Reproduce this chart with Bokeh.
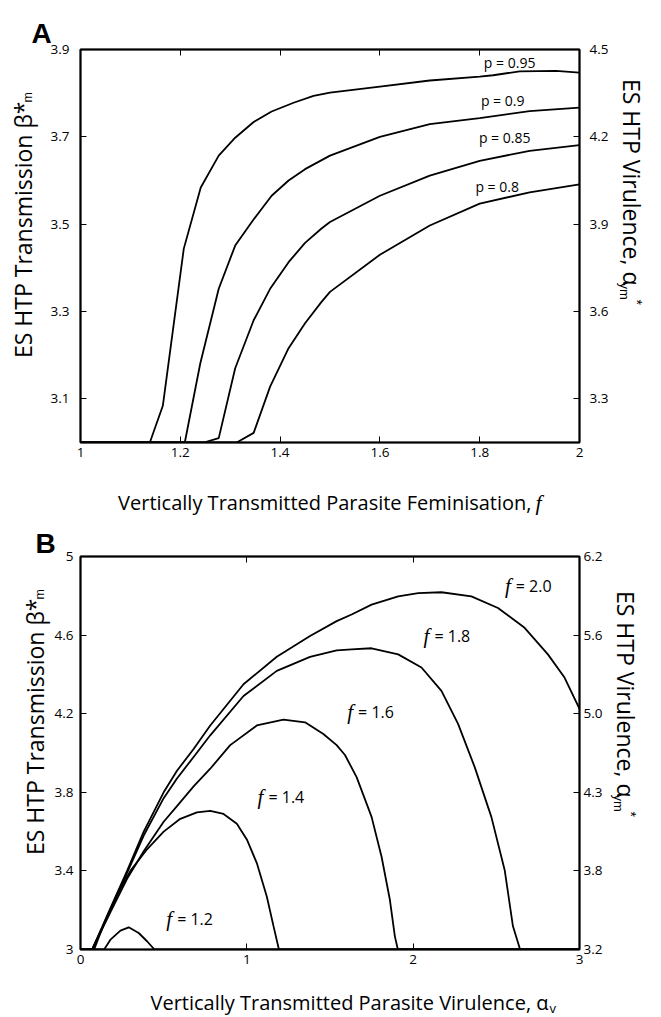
import math
from bokeh.plotting import figure
from bokeh.models import Range1d, LinearAxis, FixedTicker, Label
from bokeh.layouts import column
from bokeh.embed import file_html
from bokeh.resources import INLINE

FONT = "Open Sans"
SMALL = "Liberation Sans"
SERIF = "Liberation Serif"

# ---------------- Panel A data ----------------
a_x_ticks = [1.0, 1.2, 1.4, 1.6, 1.8, 2.0]
a_x_tick_labels = ["1", "1.2", "1.4", "1.6", "1.8", "2"]
a_left_ticks = [3.1, 3.3, 3.5, 3.7, 3.9]
a_right_ticks = [3.3, 3.6, 3.9, 4.2, 4.5]

p95_x = [1.0, 1.139, 1.165, 1.207, 1.241, 1.277, 1.31, 1.347, 1.383, 1.427, 1.467, 1.5, 1.6, 1.7, 1.8, 1.827, 1.88, 1.953, 2.0]
p95_y = [3.0, 3.0, 3.084, 3.444, 3.584, 3.657, 3.698, 3.734, 3.758, 3.778, 3.794, 3.801, 3.815, 3.829, 3.838, 3.841, 3.85, 3.851, 3.847]
p90_x = [1.0, 1.209, 1.24, 1.277, 1.31, 1.345, 1.383, 1.417, 1.45, 1.5, 1.6, 1.7, 1.8, 1.9, 2.0]
p90_y = [3.0, 3.0, 3.181, 3.352, 3.451, 3.508, 3.565, 3.60, 3.626, 3.657, 3.70, 3.729, 3.743, 3.759, 3.767]
p85_x = [1.0, 1.247, 1.277, 1.31, 1.347, 1.38, 1.417, 1.45, 1.483, 1.5, 1.6, 1.7, 1.8, 1.9, 2.0]
p85_y = [3.0, 3.0, 3.010, 3.17, 3.28, 3.352, 3.413, 3.457, 3.49, 3.505, 3.565, 3.611, 3.645, 3.668, 3.681]
p80_x = [1.0, 1.313, 1.347, 1.38, 1.417, 1.45, 1.483, 1.5, 1.6, 1.7, 1.8, 1.9, 2.0]
p80_y = [3.0, 3.0, 3.022, 3.128, 3.216, 3.273, 3.322, 3.345, 3.43, 3.497, 3.547, 3.573, 3.591]

a_label_text = ["p = 0.95", "p = 0.9", "p = 0.85", "p = 0.8"]
a_label_x = [1.86, 1.846, 1.85, 1.835]
a_label_y = [3.87, 3.784, 3.698, 3.586]

# ---------------- Panel B data ----------------
b_x_ticks = [0, 1, 2, 3]
b_left_ticks = [3.0, 3.4, 3.8, 4.2, 4.6, 5.0]
b_left_labels = ["3", "3.4", "3.8", "4.2", "4.6", "5"]
b_right_labels = ["3.2", "3.8", "4.3", "5.0", "5.6", "6.2"]

f20_x = [0, 0.07, 0.18, 0.28, 0.38, 0.50, 0.58, 0.68, 0.78, 0.98, 1.18, 1.38, 1.54, 1.63, 1.75, 1.91, 2.03, 2.17, 2.35, 2.51, 2.67, 2.81, 2.91, 3.0]
f20_y = [3.0, 3.0, 3.21, 3.40, 3.60, 3.80, 3.91, 4.02, 4.14, 4.35, 4.49, 4.595, 4.671, 4.705, 4.755, 4.797, 4.814, 4.818, 4.797, 4.738, 4.637, 4.502, 4.384, 4.225]
f18_x = [0, 0.07, 0.18, 0.28, 0.38, 0.50, 0.58, 0.68, 0.78, 0.98, 1.18, 1.38, 1.54, 1.63, 1.75, 1.91, 2.05, 2.17, 2.27, 2.37, 2.47, 2.55, 2.60, 2.643, 3.0]
f18_y = [3.0, 3.0, 3.20, 3.39, 3.58, 3.77, 3.87, 3.98, 4.09, 4.29, 4.418, 4.489, 4.522, 4.527, 4.533, 4.502, 4.435, 4.316, 4.148, 3.928, 3.675, 3.405, 3.118, 3.0, 3.0]
f16_x = [0, 0.07, 0.18, 0.28, 0.38, 0.50, 0.58, 0.68, 0.78, 0.90, 1.06, 1.22, 1.35, 1.46, 1.54, 1.59, 1.66, 1.75, 1.81, 1.86, 1.89, 1.908, 3.0]
f16_y = [3.0, 3.0, 3.19, 3.36, 3.50, 3.65, 3.73, 3.83, 3.92, 4.04, 4.14, 4.17, 4.156, 4.097, 4.04, 3.99, 3.877, 3.675, 3.472, 3.253, 3.067, 3.0, 3.0]
f14_x = [0, 0.082, 0.15, 0.22, 0.30, 0.40, 0.50, 0.60, 0.70, 0.78, 0.86, 0.94, 1.0, 1.06, 1.12, 1.16, 1.193, 3.0]
f14_y = [3.0, 3.0, 3.15, 3.28, 3.40, 3.51, 3.60, 3.665, 3.698, 3.705, 3.69, 3.64, 3.56, 3.44, 3.27, 3.12, 3.0, 3.0]
f12_x = [0, 0.09, 0.142, 0.18, 0.24, 0.29, 0.35, 0.40, 0.445, 3.0]
f12_y = [3.0, 3.0, 3.0, 3.05, 3.096, 3.113, 3.084, 3.042, 3.0, 3.0]

b_label_text = ["= 2.0", "= 1.8", "= 1.6", "= 1.4", "= 1.2"]
b_label_x = [2.617, 2.128, 1.669, 1.13, 0.581]
b_label_y = [4.848, 4.595, 4.21, 3.775, 3.157]


def style_axes(p, standoffs):
    p.outline_line_color = "black"
    p.outline_line_width = 2
    p.xgrid.visible = False
    p.ygrid.visible = False
    p.background_fill_color = "white"
    p.border_fill_color = "white"
    for ax in p.axis:
        ax.axis_line_color = "black"
        ax.axis_line_width = 1.5
        ax.major_tick_in = 6
        ax.major_tick_out = 0
        ax.major_tick_line_color = "black"
        ax.major_tick_line_width = 1
        ax.minor_tick_line_color = None
        ax.major_label_text_font = FONT
        ax.major_label_text_font_size = "13.5px"
        ax.major_label_text_color = "black"
    for ax, s in standoffs:
        ax.major_label_standoff = s


def lab(p, x, y, dx, dy, text, size, align="left", baseline="alphabetic",
        angle=0.0, font=FONT, style="normal", side=None):
    lbl = Label(x=x, y=y, x_offset=dx, y_offset=dy, text=text,
                text_font=font, text_font_size=size, text_font_style=style,
                text_align=align, text_baseline=baseline, angle=angle,
                text_color="black")
    if side is None:
        p.add_layout(lbl)
    else:
        p.add_layout(lbl, side)


UP = math.pi / 2
DOWN = -math.pi / 2
LW = 1.8

# ================= Panel A =================
pA = figure(width=661, height=515, x_range=Range1d(1.0, 2.0), y_range=Range1d(3.0, 3.9),
            output_backend="svg", toolbar_location=None,
            min_border_left=80, min_border_right=81, min_border_top=49, min_border_bottom=73)
pA.extra_y_ranges = {"r": Range1d(3.15, 4.5)}
pA.xaxis.ticker = FixedTicker(ticks=a_x_ticks)
pA.xaxis.major_label_overrides = {t: s for t, s in zip(a_x_ticks, a_x_tick_labels)}
pA.yaxis.ticker = FixedTicker(ticks=a_left_ticks)
a_right = LinearAxis(y_range_name="r", ticker=FixedTicker(ticks=a_right_ticks))
pA.add_layout(a_right, "right")
a_top = LinearAxis(ticker=FixedTicker(ticks=a_x_ticks), major_label_text_alpha=0)
pA.add_layout(a_top, "above")
style_axes(pA, [(pA.xaxis[0], 12), (pA.yaxis[0], 11), (a_right, 10), (a_top, 0)])
a_top.major_label_text_font_size = "1px"

for xs, ys in [(p95_x, p95_y), (p90_x, p90_y), (p85_x, p85_y), (p80_x, p80_y)]:
    pA.line(xs, ys, line_color="black", line_width=LW)

for t, x, y in zip(a_label_text, a_label_x, a_label_y):
    lab(pA, x, y, 0, 0, t, "14px", align="center", baseline="middle")

# frame corner (1.0, 3.9) sits at (80, 49); frame right at 580, bottom 442
lab(pA, 1.0, 3.9, -49, 16, "A", "28px", font=SMALL, style="bold", side="above")
lab(pA, 1.0, 3.9, -58, -52, "ES HTP Transmission \u03b2*", "23px", align="right", angle=UP, side="left")
lab(pA, 1.0, 3.9, -53, -53, "m", "12.5px", angle=UP, font=SMALL, side="left")
lab(pA, 2.0, 3.9, 52, -236, "ES HTP Virulence, \u03b1", "23px", align="right", angle=DOWN, side="right")
lab(pA, 2.0, 3.9, 45, -233, "ym", "13px", angle=DOWN, font=SMALL, side="right")
lab(pA, 2.0, 3.9, 57, -250, "*", "14px", angle=DOWN, font=SMALL, side="above")
lab(pA, 1.0, 3.0, 451, -60, "Vertically Transmitted Parasite Feminisation,", "20px", align="right", side="below")
lab(pA, 1.0, 3.0, 455, -60, "f", "22px", font=SERIF, style="italic", side="below")

# ================= Panel B =================
pB = figure(width=661, height=502, x_range=Range1d(0, 3), y_range=Range1d(3.0, 5.0),
            output_backend="svg", toolbar_location=None,
            min_border_left=78, min_border_right=82, min_border_top=41, min_border_bottom=68)
pB.xaxis.ticker = FixedTicker(ticks=b_x_ticks)
pB.yaxis.ticker = FixedTicker(ticks=b_left_ticks)
pB.yaxis.major_label_overrides = {t: s for t, s in zip(b_left_ticks, b_left_labels)}
b_right = LinearAxis(ticker=FixedTicker(ticks=b_left_ticks))
b_right.major_label_overrides = {t: s for t, s in zip(b_left_ticks, b_right_labels)}
pB.add_layout(b_right, "right")
b_top = LinearAxis(ticker=FixedTicker(ticks=b_x_ticks), major_label_text_alpha=0)
pB.add_layout(b_top, "above")
style_axes(pB, [(pB.xaxis[0], 3), (pB.yaxis[0], 7), (b_right, 4), (b_top, 0)])
b_top.major_label_text_font_size = "1px"

for xs, ys in [(f20_x, f20_y), (f18_x, f18_y), (f16_x, f16_y), (f14_x, f14_y), (f12_x, f12_y)]:
    pB.line(xs, ys, line_color="black", line_width=LW)

for t, x, y in zip(b_label_text, b_label_x, b_label_y):
    lab(pB, x, y, 0, 0, t, "16px", align="left", baseline="middle")
    lab(pB, x, y, -5, 0, "f", "21px", align="right", baseline="middle", font=SERIF, style="italic")

# frame corner (0, 5) sits at (78, 556 on the page); frame right at 579, bottom 949
lab(pB, 0.0, 5.0, -45, 13, "B", "28px", font=SMALL, style="bold", side="above")
lab(pB, 0.0, 5.0, -46, -42, "ES HTP Transmission \u03b2*", "23px", align="right", angle=UP, side="left")
lab(pB, 0.0, 5.0, -41, -43, "m", "12.5px", angle=UP, font=SMALL, side="left")
lab(pB, 3.0, 5.0, 46, -241, "ES HTP Virulence, \u03b1", "23px", align="right", angle=DOWN, side="right")
lab(pB, 3.0, 5.0, 39, -238, "ym", "13px", angle=DOWN, font=SMALL, side="right")
lab(pB, 3.0, 5.0, 51, -255, "*", "14px", angle=DOWN, font=SMALL, side="above")
lab(pB, 0.0, 3.0, 468, -53, "Vertically Transmitted Parasite Virulence, \u03b1", "20px", align="right", side="below")
lab(pB, 0.0, 3.0, 469, -58, "v", "13px", side="below")

layout = column(pA, pB, spacing=0)
open("out.html", "w").write(file_html(layout, INLINE))
